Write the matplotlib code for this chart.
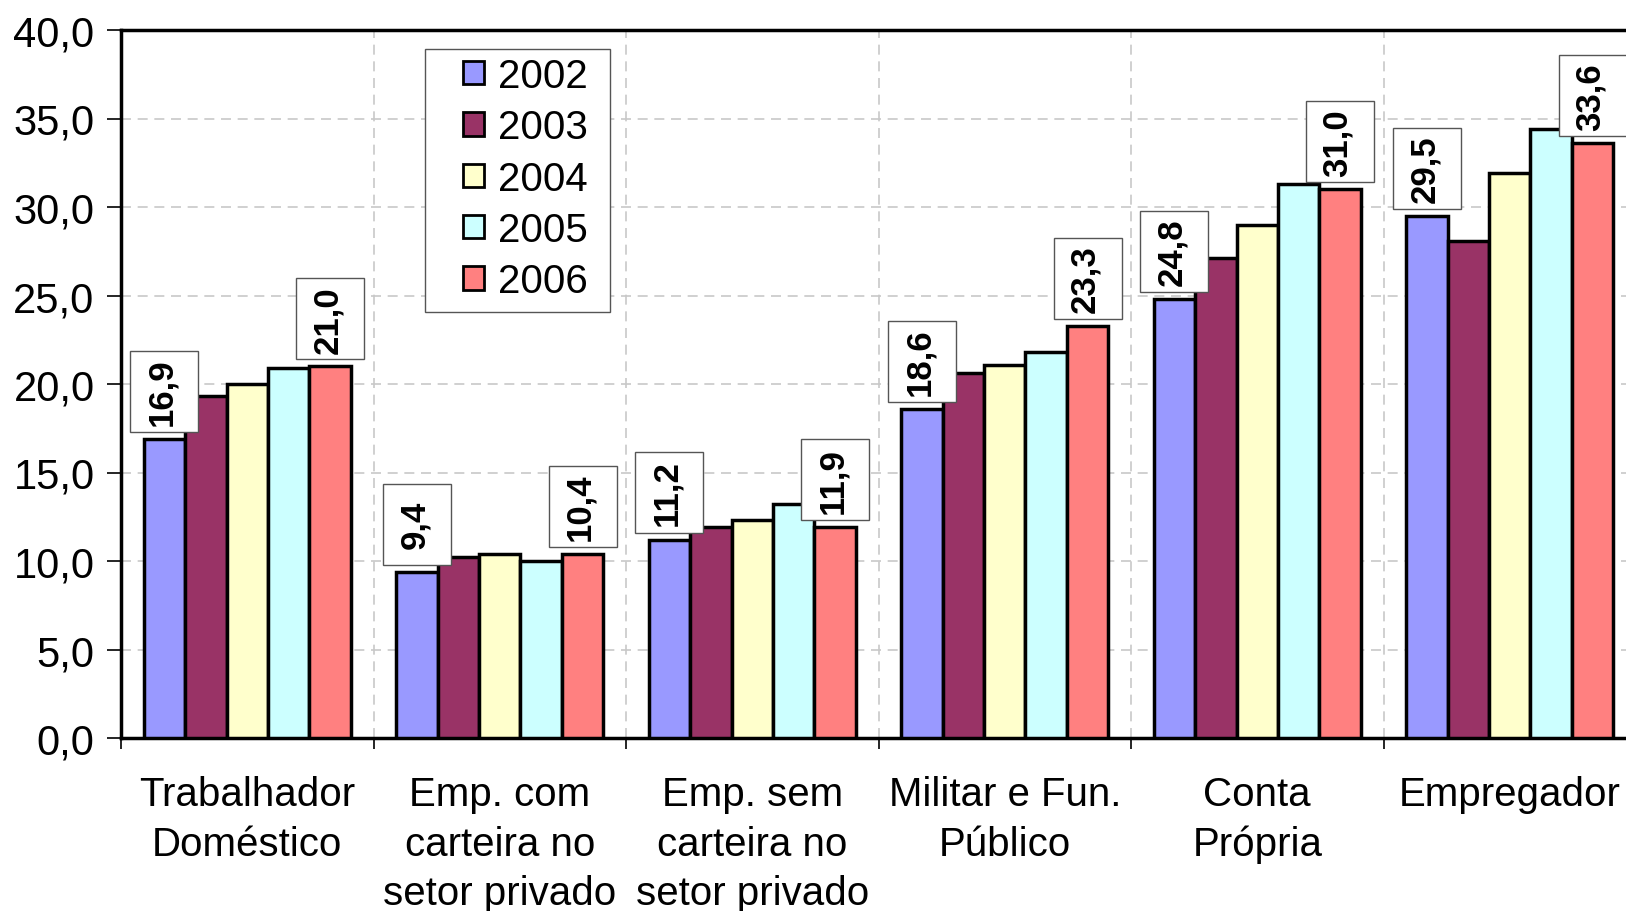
import numpy as np
import matplotlib
matplotlib.use("Agg")
import matplotlib.pyplot as plt
from matplotlib.patches import Rectangle
from matplotlib.ticker import FixedLocator, FuncFormatter

plt.rcParams["font.family"] = ["Liberation Sans", "DejaVu Sans"]

categories = ["Trabalhador\nDoméstico", "Emp. com\ncarteira no\nsetor privado",
              "Emp. sem\ncarteira no\nsetor privado", "Militar e Fun.\nPúblico",
              "Conta\nPrópria", "Empregador"]
years = ["2002", "2003", "2004", "2005", "2006"]
v2002 = [16.9, 9.4, 11.2, 18.6, 24.8, 29.5]
v2003 = [19.3, 10.2, 11.9, 20.6, 27.1, 28.1]
v2004 = [20.0, 10.4, 12.3, 21.1, 29.0, 31.9]
v2005 = [20.9, 10.0, 13.2, 21.8, 31.3, 34.4]
v2006 = [21.0, 10.4, 11.9, 23.3, 31.0, 33.6]
series = [v2002, v2003, v2004, v2005, v2006]
colors = ["#9999FF", "#993366", "#FFFFCC", "#CCFFFF", "#FF8080"]
labelled = {0: v2002, 4: v2006}

fig = plt.figure(figsize=(16.26, 9.12), dpi=100)
ax = fig.add_axes([121 / 1626, 173 / 912, 1515 / 1626, 708 / 912])
ax.set_xlim(-0.5, len(categories) - 0.5)
ax.set_ylim(0, 40)

# label box size in data units (axes is 1515 px wide / 6 cats, 708 px tall / 40)
bw, bh, gap = 68 / (1515 / 6), 81 / (708 / 40), 7 / (708 / 40)

x = np.arange(len(categories))
w = 0.164
for i, (vals, col) in enumerate(zip(series, colors)):
    pos = x + (i - 2) * w
    ax.bar(pos, vals, width=w, color=col, edgecolor="black", linewidth=2.5,
           label=years[i], zorder=3)
    if i in labelled:
        for xp, v in zip(pos, vals):
            ax.add_patch(Rectangle((xp - bw / 2, v + gap), bw, bh, fc="white",
                                   ec="#555555", lw=1, zorder=5, clip_on=False))
            ax.text(xp - 0.01, v + gap + bh / 2, f"{v:.1f}".replace(".", ","),
                    rotation=90, ha="center", va="center", fontsize=25,
                    fontweight="bold", zorder=6, clip_on=False)

ax.yaxis.set_major_locator(FixedLocator(np.arange(0, 41, 5)))
ax.yaxis.set_major_formatter(FuncFormatter(lambda v, p: f"{v:.1f}".replace(".", ",")))
ax.tick_params(axis="y", labelsize=30, length=10, width=1.2, pad=9)

ax.set_xticks(x)
ax.set_xticklabels(categories, fontsize=29, linespacing=1.37)
ax.tick_params(axis="x", which="major", length=0, pad=27)
ax.set_xticks(np.arange(-0.5, len(categories), 1.0), minor=True)
ax.tick_params(axis="x", which="minor", length=8, width=1.2)

ax.grid(axis="y", which="major", color="#c8c8c8", linestyle=(0, (6, 4)), lw=1.2, zorder=0)
ax.grid(axis="x", which="minor", color="#c8c8c8", linestyle=(0, (6, 4)), lw=1.2, zorder=0)
for s in ax.spines.values():
    s.set_linewidth(2.5)

# legend: frame drawn separately so the wide left margin can match
ax.add_patch(Rectangle((425 / 1626, 1 - 313 / 912), 185 / 1626, 263 / 912,
                       transform=fig.transFigure, fc="white", ec="#555555",
                       lw=1, zorder=4.5, clip_on=False))
leg = ax.legend(loc="upper left", bbox_to_anchor=(463 / 1626, 1 - 58 / 912),
                bbox_transform=fig.transFigure, fontsize=29, frameon=False,
                handlelength=0.52, handleheight=0.52, handletextpad=0.34,
                labelspacing=0.33, borderpad=0, borderaxespad=0)
leg.set_zorder(7)
for h in leg.legend_handles:
    h.set_linewidth(2)

fig.savefig("out.png", dpi=100)
